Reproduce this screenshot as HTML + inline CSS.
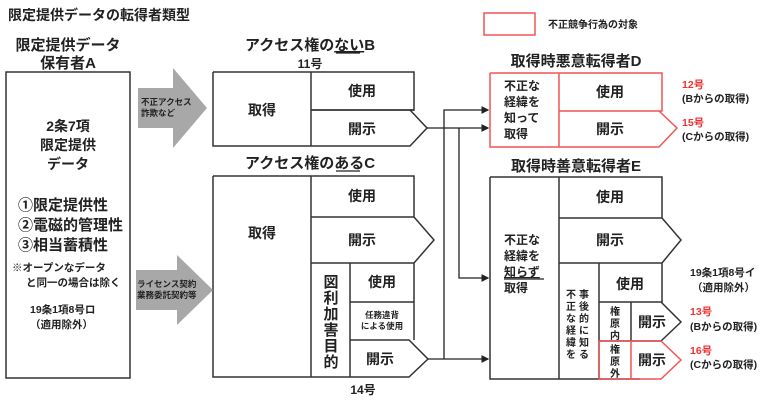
<!DOCTYPE html>
<html><head><meta charset="utf-8"><style>
html,body{margin:0;padding:0;background:#fff}
svg text{font-family:"Liberation Sans","Noto Sans CJK JP",sans-serif;font-weight:bold;fill:#222}
</style></head><body>
<svg width="768" height="409" viewBox="0 0 768 409" xmlns="http://www.w3.org/2000/svg">
<defs><marker id="ar" markerWidth="6" markerHeight="6" refX="5" refY="3" orient="auto"><path d="M0,0 L6,3 L0,6z" fill="#222"/></marker></defs>
<g stroke="#333" stroke-width="1.5" fill="none">
<!-- A -->
<rect x="6" y="72" width="124" height="306"/>
<!-- B -->
<path d="M213,72 H414 V110 H311 M213,72 V146 H410 L427,128 L410,110 M311,72 V146"/>
<path d="M414,110 H311"/>
<!-- C -->
<path d="M213,176 H414 V217 H311 M213,176 V377 H409 L428,359 L409,340 H350 M311,176 V377 M311,217 H414 L434,240 L414,263 H311 M350,263 V377 M350,263 H414 V340 M350,302 H414"/>
<!-- E -->
<path d="M490,177 H662 V218 H559 M490,177 V379 H640 M559,177 V379 M559,218 H662 L681,240 L662,263 H559 M599,263 V379 M599,263 H662 V302 H599 M631,302 V341 M599,341 H661 M661,302 L681,322 L661,341 M599,341 V379"/>
</g>
<!-- connectors -->
<g stroke="#222" stroke-width="1.3" fill="none">
<path d="M427,128 H488" marker-end="url(#ar)"/>
<path d="M459,128 V278 H488" marker-end="url(#ar)"/>
<path d="M428,359 H488" marker-end="url(#ar)"/>
<path d="M444,359 V110 H488" marker-end="url(#ar)"/>
</g>
<!-- red -->
<g stroke="#f25555" stroke-width="1.5" fill="none">
<rect x="484" y="13" width="51" height="22"/>
<path d="M490,73 H662 V111 H559 M490,73 V147 H659 L677,128 L659,111 M559,73 V147"/>
<path d="M599,341 H661 L681,360 L661,379 H599 Z M631,341 V379"/>
</g>
<!-- gray arrows -->
<path d="M138,88 H173 V68 L207,108 L173,148 V128 H138 Z" fill="#a8a8a8"/>
<path d="M136,270 H177 V255 L213,290 L177,325 V310 H136 Z" fill="#a8a8a8"/>
<text x="141" y="105" font-size="8.5">不正アクセス</text>
<text x="141" y="116" font-size="8.5">詐欺など</text>
<text x="137" y="287" font-size="8.5">ライセンス契約</text>
<text x="137" y="298" font-size="8.5">業務委託契約等</text>
<!-- titles -->
<text x="8" y="20" font-size="14">限定提供データの転得者類型</text>
<text x="68" y="50" font-size="15" text-anchor="middle">限定提供データ</text>
<text x="68" y="68" font-size="15" text-anchor="middle">保有者A</text>
<text x="68" y="131" font-size="14" text-anchor="middle">2条7項</text>
<text x="68" y="150" font-size="14" text-anchor="middle">限定提供</text>
<text x="68" y="169" font-size="14" text-anchor="middle">データ</text>
<text x="18" y="210" font-size="15">①限定提供性</text>
<text x="18" y="230" font-size="15">②電磁的管理性</text>
<text x="18" y="250" font-size="15">③相当蓄積性</text>
<text x="12" y="271" font-size="10.5">※オープンなデータ</text>
<text x="26" y="286" font-size="10.5">と同一の場合は除く</text>
<text x="30" y="313" font-size="10.5">19条1項8号ロ</text>
<text x="30" y="328" font-size="10.5">（適用除外）</text>

<text x="310" y="50" font-size="15" text-anchor="middle">アクセス権の<tspan text-decoration="underline">ない</tspan>B</text>
<line x1="336" y1="53" x2="360" y2="53" stroke="#222" stroke-width="1.3"/>
<text x="310" y="68" font-size="12" text-anchor="middle">11号</text>
<text x="262" y="115" font-size="14" text-anchor="middle">取得</text>
<text x="362" y="96" font-size="14" text-anchor="middle">使用</text>
<text x="362" y="134" font-size="14" text-anchor="middle">開示</text>

<text x="310" y="168" font-size="15" text-anchor="middle">アクセス権の<tspan>ある</tspan>C</text>
<line x1="336" y1="171" x2="360" y2="171" stroke="#222" stroke-width="1.3"/>
<text x="262" y="238" font-size="14" text-anchor="middle">取得</text>
<text x="362" y="201" font-size="14" text-anchor="middle">使用</text>
<text x="362" y="245" font-size="14" text-anchor="middle">開示</text>
<g font-size="15" text-anchor="middle">
<text x="331" y="287">図</text><text x="331" y="303">利</text><text x="331" y="319">加</text><text x="331" y="335">害</text><text x="331" y="351">目</text><text x="331" y="367">的</text>
</g>
<text x="382" y="287" font-size="14" text-anchor="middle">使用</text>
<text x="382" y="318" font-size="8.5" text-anchor="middle">任務違背</text>
<text x="382" y="329" font-size="8.5" text-anchor="middle">による使用</text>
<text x="380" y="364" font-size="14" text-anchor="middle">開示</text>
<text x="363" y="394" font-size="12" text-anchor="middle">14号</text>

<text x="548" y="28" font-size="10">不正競争行為の対象</text>
<text x="576" y="66" font-size="15" text-anchor="middle">取得時悪意転得者D</text>
<text x="504" y="90" font-size="12">不正な</text>
<text x="504" y="106" font-size="12">経緯を</text>
<text x="504" y="122" font-size="12">知って</text>
<text x="504" y="138" font-size="12">取得</text>
<text x="610" y="97" font-size="14" text-anchor="middle">使用</text>
<text x="610" y="134" font-size="14" text-anchor="middle">開示</text>
<text x="682" y="88" font-size="10.5" style="fill:#f03030">12号</text>
<text x="682" y="102" font-size="10.5">(Bからの取得)</text>
<text x="682" y="126" font-size="10.5" style="fill:#f03030">15号</text>
<text x="682" y="140" font-size="10.5">(Cからの取得)</text>

<text x="576" y="171" font-size="15" text-anchor="middle">取得時善意転得者E</text>
<text x="610" y="202" font-size="14" text-anchor="middle">使用</text>
<text x="610" y="245" font-size="14" text-anchor="middle">開示</text>
<text x="504" y="244" font-size="12">不正な</text>
<text x="504" y="260" font-size="12">経緯を</text>
<text x="504" y="276" font-size="12" text-decoration="underline">知らず</text>
<line x1="504" y1="279" x2="544" y2="279" stroke="#222" stroke-width="1.3"/>
<text x="504" y="292" font-size="12">取得</text>
<g font-size="10" text-anchor="middle">
<text x="584" y="298">事</text><text x="584" y="310">後</text><text x="584" y="322">的</text><text x="584" y="334">に</text><text x="584" y="346">知</text><text x="584" y="358">る</text>
<text x="571" y="298">不</text><text x="571" y="310">正</text><text x="571" y="322">な</text><text x="571" y="334">経</text><text x="571" y="346">緯</text><text x="571" y="358">を</text>
<text x="615" y="315">権</text><text x="615" y="327">原</text><text x="615" y="339">内</text>
<text x="615" y="353">権</text><text x="615" y="365">原</text><text x="615" y="377">外</text>
</g>
<text x="630" y="289" font-size="14" text-anchor="middle">使用</text>
<text x="652" y="327" font-size="14" text-anchor="middle">開示</text>
<text x="652" y="365" font-size="14" text-anchor="middle">開示</text>
<text x="690" y="276" font-size="10.5">19条1項8号イ</text>
<text x="692" y="291" font-size="10.5">（適用除外）</text>
<text x="690" y="315" font-size="10.5" style="fill:#f03030">13号</text>
<text x="690" y="330" font-size="10.5">(Bからの取得)</text>
<text x="690" y="354" font-size="10.5" style="fill:#f03030">16号</text>
<text x="690" y="368" font-size="10.5">(Cからの取得)</text>
</svg>
</body></html>
